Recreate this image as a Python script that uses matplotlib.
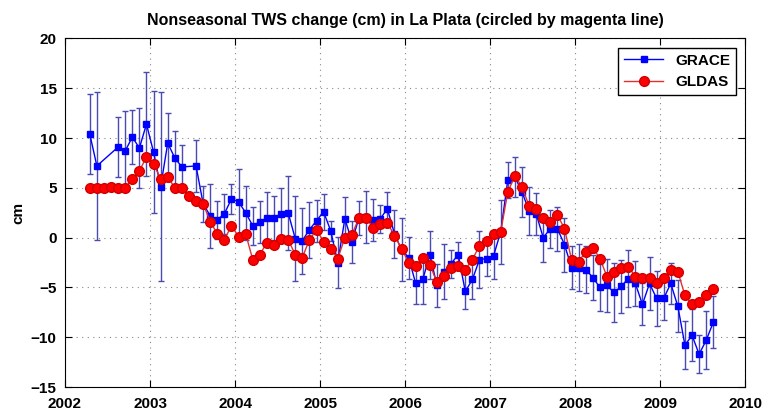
import numpy as np
import matplotlib
matplotlib.use('Agg')
import matplotlib.pyplot as plt
from matplotlib.lines import Line2D

plt.rcParams['font.family'] = ['Liberation Sans', 'DejaVu Sans']

# months counted from Jan 2002 (1 = Jan 2002), plotted at mid-month
grace_month = [4, 5, 8, 9, 10, 11, 12,
               13, 14, 15, 16, 17, 19, 20, 21, 22, 23, 24,
               25, 26, 27, 28, 29, 30, 31, 32, 33, 34, 35, 36,
               37, 38, 39, 40, 41, 42, 43, 44, 45, 46, 47, 48,
               49, 50, 51, 52, 53, 54, 55, 56, 57, 58, 59, 60,
               61, 62, 63, 64, 65, 66, 67, 68, 69, 70, 71, 72,
               73, 74, 75, 76, 77, 78, 79, 80, 81, 82, 83, 84,
               85, 86, 87, 88, 89, 90, 91, 92]
grace_val = [10.4, 7.2, 9.1, 8.7, 10.1, 9.0, 11.4,
             8.6, 5.1, 9.5, 8.0, 7.1, 7.2, 3.4, 2.2, 1.8, 2.4, 3.9,
             3.6, 2.5, 1.2, 1.6, 2.0, 2.0, 2.4, 2.5, -0.1, -0.3, 0.8, 1.7,
             2.6, 0.7, -2.5, 1.9, -0.4, 2.0, 2.1, 1.8, 1.9, 2.9, 0.4, -1.2,
             -2.0, -4.6, -4.2, -1.7, -4.8, -3.4, -2.6, -1.7, -5.4, -4.2, -2.2, -2.1,
             -1.8, 0.6, 5.8, 6.1, 4.6, 2.7, 2.4, 0.0, 0.9, 0.9, -0.7, -3.0,
             -3.0, -3.2, -4.0, -5.0, -4.8, -5.5, -4.9, -4.1, -4.6, -6.7, -4.6, -6.1,
             -6.1, -4.6, -6.9, -10.8, -9.8, -11.7, -10.3, -8.5]
grace_err = [4.0, 7.4, 3.0, 4.0, 2.7, 4.0, 5.2,
             6.1, 9.5, 3.0, 2.7, 2.2, 2.6, 1.8, 3.2, 1.9, 2.0, 1.5,
             3.3, 2.7, 1.9, 2.1, 2.6, 2.2, 2.6, 3.7, 4.3, 3.3, 2.8, 2.1,
             1.8, 1.0, 2.6, 2.2, 2.1, 1.7, 2.6, 2.1, 1.4, 1.7, 2.4, 3.2,
             2.1, 2.1, 2.5, 2.4, 2.2, 2.8, 1.4, 1.3, 1.8, 2.0, 2.9, 1.7,
             2.4, 3.2, 1.8, 2.0, 2.5, 2.4, 2.1, 2.4, 1.9, 2.2, 2.7, 2.2,
             2.4, 2.4, 2.3, 2.4, 2.7, 3.0, 2.7, 2.9, 2.3, 2.1, 2.7, 2.8,
             2.2, 2.1, 2.6, 2.4, 2.6, 1.9, 2.9, 2.6]

gldas_month = list(range(4, 93))
gldas_val = [5.0, 5.0, 5.0, 5.1, 5.0, 5.0, 5.9, 6.7, 8.1,
             7.4, 5.9, 6.1, 5.0, 5.0, 4.2, 3.7, 3.4, 1.6, 0.4, -0.2, 1.2,
             0.1, 0.4, -2.2, -1.7, -0.5, -0.7, -0.1, -0.2, -1.7, -2.0, -0.2, 0.8,
             -0.4, -1.1, -2.1, 0.0, 0.3, 2.0, 2.0, 1.0, 1.4, 1.5, 0.2, -1.1,
             -2.5, -2.8, -2.0, -2.7, -4.5, -3.8, -3.0, -2.8, -3.2, -2.2, -0.8, -0.3,
             0.4, 0.6, 4.6, 6.2, 5.1, 3.2, 2.9, 2.0, 1.6, 2.3, 0.9, -2.2,
             -2.4, -1.4, -1.0, -2.1, -3.9, -3.4, -3.0, -2.9, -3.9, -4.0, -4.0, -4.6,
             -4.0, -3.2, -3.4, -5.8, -6.7, -6.5, -5.8, -5.2]

grace_t = 2002 + (np.array(grace_month) - 0.5) / 12
gldas_t = 2002 + (np.array(gldas_month) - 0.5) / 12

fig = plt.figure(figsize=(7.69, 4.18), dpi=100)
ax = fig.add_axes([0.0845, 0.074, 0.8845, 0.834])

ax.errorbar(grace_t, grace_val, yerr=grace_err, color='#0000ff', ecolor='#4a4ab0',
            elinewidth=1, capsize=2.5, marker='s', markersize=5, linewidth=1,
            zorder=2)
ax.plot(gldas_t, gldas_val, color='#e03030', marker='o', markersize=7,
        markerfacecolor='#ff0000', markeredgecolor='#d00000', linewidth=1,
        zorder=3)

ax.set_xlim(2002, 2010)
ax.set_ylim(-15, 20)
ax.set_xticks(range(2002, 2011))
ax.set_yticks(range(-15, 21, 5))
ax.grid(True, linestyle=(0, (1, 4)), color='#888888', linewidth=0.8)
ax.tick_params(direction='in', top=True, right=True, labelsize=11, length=5)
ax.tick_params(axis='x', pad=7)
ax.tick_params(axis='y', pad=6)
for lab in ax.get_xticklabels() + ax.get_yticklabels():
    lab.set_fontweight('bold')
ax.set_ylabel('cm', fontsize=11, fontweight='bold')
ax.set_title('Nonseasonal TWS change (cm) in La Plata (circled by magenta line)',
             fontsize=11.5, fontweight='bold', pad=10)

handles = [Line2D([], [], color='#0000ff', marker='s', markersize=5, linewidth=1),
           Line2D([], [], color='#e03030', marker='o', markersize=7,
                  markerfacecolor='#ff0000', markeredgecolor='#d00000', linewidth=1)]
leg = ax.legend(handles, ['GRACE', 'GLDAS'], loc='upper right',
                prop={'weight': 'bold', 'size': 11}, handlelength=2.5,
                fancybox=False, framealpha=1, edgecolor='black', borderaxespad=0.6)
leg.get_frame().set_linewidth(1)

fig.savefig('out.png', dpi=100)
